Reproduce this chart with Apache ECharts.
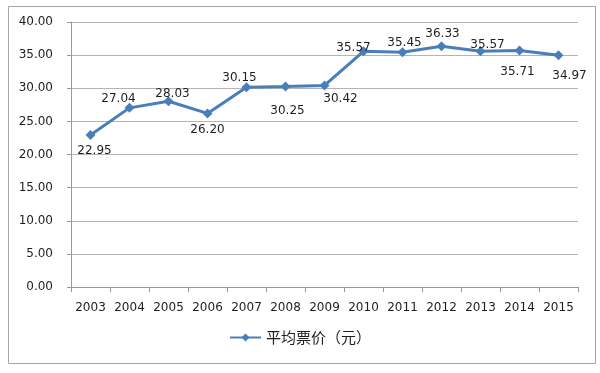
<!DOCTYPE html>
<html>
<head>
<meta charset="utf-8">
<script src="https://cdn.jsdelivr.net/npm/echarts@6/dist/echarts.min.js"></script>
<style>
html,body{margin:0;padding:0;background:#fff;}
#main{width:600px;height:373px;}
</style>
</head>
<body>
<div id="main"></div>
<script>
var years = ['2003','2004','2005','2006','2007','2008','2009','2010','2011','2012','2013','2014','2015'];
var avgPrice = [22.95, 27.04, 28.03, 26.20, 30.15, 30.25, 30.42, 35.57, 35.45, 36.33, 35.57, 35.71, 34.97];
var seriesName = '平均票价（元）';

// label placement style (top/bottom + pixel nudge), kept separate from data
var labelSide = ['bottom','top','top','bottom','top','bottom','bottom','top','top','top','top','bottom','bottom'];
var labelNudge = [[4,0],[-11,7],[4,9],[0,0],[-7,7],[2,8],[16,-3],[-10,13],[2,7],[1,4],[7,10],[-2,5],[11,5]];

var textColor = '#1e1e1e';
var font = '"DejaVu Sans", sans-serif';

var chart = echarts.init(document.getElementById('main'), null, {renderer:'canvas'});
chart.setOption({
  animation: false,
  backgroundColor: '#fff',
  graphic: [{
    type: 'rect',
    shape: {x: 8.5, y: 6.5, width: 587, height: 357},
    style: {fill: 'none', stroke: '#a6a6a6', lineWidth: 1},
    silent: true
  }],
  grid: {left: 71, right: 22, top: 22, bottom: 86},
  legend: {
    bottom: 23,
    left: 'center',
    itemWidth: 31,
    itemHeight: 10,
    itemGap: 10,
    textStyle: {fontFamily: '"Noto Sans CJK SC", sans-serif', fontSize: 15, color: textColor},
    data: [seriesName]
  },
  xAxis: {
    type: 'category',
    data: years,
    boundaryGap: true,
    axisLine: {lineStyle: {color: '#999', width: 1}},
    axisTick: {show: true, length: 5, alignWithLabel: false, lineStyle: {color: '#999'}},
    axisLabel: {color: textColor, fontFamily: font, fontSize: 12, margin: 15, interval: 0}
  },
  yAxis: {
    type: 'value',
    min: 0, max: 40, interval: 5,
    axisLine: {show: true, lineStyle: {color: '#999', width: 1}},
    axisTick: {show: true, length: 4, lineStyle: {color: '#999'}},
    axisLabel: {color: textColor, fontFamily: font, fontSize: 12, margin: 18,
      formatter: function(v){ return v.toFixed(2); }},
    splitLine: {lineStyle: {color: '#b4b4b4', width: 1}}
  },
  series: [{
    name: seriesName,
    type: 'line',
    data: avgPrice.map(function(v, i){
      return {
        value: v,
        label: {position: labelSide[i], offset: labelNudge[i]}
      };
    }),
    symbol: 'diamond',
    symbolSize: 10,
    lineStyle: {color: '#4a7ebb', width: 3},
    itemStyle: {color: '#4a7ebb'},
    label: {
      show: true,
      color: textColor,
      fontFamily: font,
      fontSize: 12,
      formatter: function(p){ return p.value.toFixed(2); }
    }
  }]
});
</script>
</body>
</html>
